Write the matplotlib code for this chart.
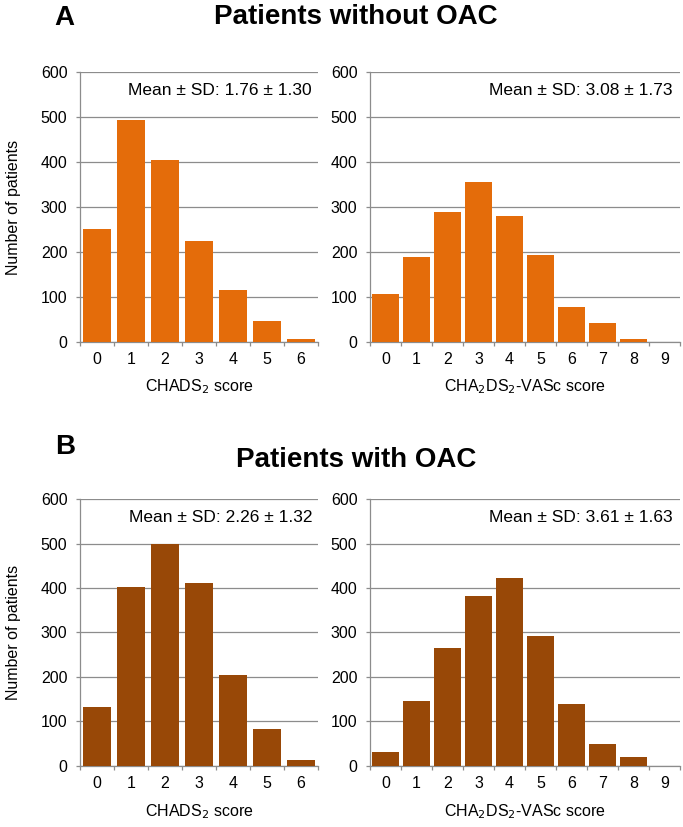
import numpy as np
import matplotlib
matplotlib.use('Agg')
import matplotlib.pyplot as plt

plt.rcParams['font.family'] = ['Liberation Sans', 'DejaVu Sans']

# data
chads_x = [0, 1, 2, 3, 4, 5, 6]
vasc_x = [0, 1, 2, 3, 4, 5, 6, 7, 8, 9]

chads_no_oac = [250, 493, 405, 224, 116, 46, 7]
vasc_no_oac = [106, 189, 288, 355, 281, 193, 78, 42, 6, 0]
chads_oac = [133, 403, 498, 411, 205, 84, 14]
vasc_oac = [32, 147, 265, 383, 422, 292, 139, 50, 20, 0]

mean_txt = ['Mean \u00b1 SD: 1.76 \u00b1 1.30', 'Mean \u00b1 SD: 3.08 \u00b1 1.73',
            'Mean \u00b1 SD: 2.26 \u00b1 1.32', 'Mean \u00b1 SD: 3.61 \u00b1 1.63']

orange = '#E46C0A'
brown = '#984807'
grid_c = '#8C8C8C'
fs = 11.5

fig = plt.figure(figsize=(6.83, 8.27), dpi=100)


def panel(rect, x, y, color, txt, xlab, ylab):
    ax = fig.add_axes(rect)
    ax.bar(x, y, width=0.84, color=color, zorder=3)
    ax.set_xlim(-0.5, len(x) - 0.5)
    ax.set_ylim(0, 600)
    ax.set_yticks(range(0, 601, 100))
    ax.yaxis.grid(True, color=grid_c, linewidth=0.9, zorder=0)
    ax.set_xticks(x)
    ax.set_xticks(np.arange(-0.5, len(x), 1), minor=True)
    ax.tick_params(axis='x', which='major', length=0, pad=7, labelsize=fs)
    ax.tick_params(axis='x', which='minor', length=3, width=0.9, color=grid_c, direction='out')
    ax.tick_params(axis='y', length=3, width=0.9, color=grid_c, labelsize=fs, pad=6)
    for s in ['top', 'right']:
        ax.spines[s].set_visible(False)
    for s in ['left', 'bottom']:
        ax.spines[s].set_color(grid_c)
        ax.spines[s].set_linewidth(0.9)
    ax.text(0.975, 0.93, txt, transform=ax.transAxes, ha='right', va='center', fontsize=12.5)
    ax.set_xlabel(xlab, fontsize=fs, labelpad=8)
    if ylab:
        ax.set_ylabel('Number of patients', fontsize=fs, labelpad=14)
    return ax


xl1 = 'CHADS$_2$ score'
xl2 = 'CHA$_2$DS$_2$-VASc score'

panel([0.1171, 0.5865, 0.3485, 0.3265], chads_x, chads_no_oac, orange, mean_txt[0], xl1, True)
panel([0.5417, 0.5865, 0.4539, 0.3265], vasc_x, vasc_no_oac, orange, mean_txt[1], xl2, False)
panel([0.1171, 0.0738, 0.3485, 0.3228], chads_x, chads_oac, brown, mean_txt[2], xl1, True)
panel([0.5417, 0.0738, 0.4539, 0.3228], vasc_x, vasc_oac, brown, mean_txt[3], xl2, False)

fig.text(0.08, 0.978, 'A', fontsize=20, fontweight='bold', va='center')
fig.text(0.521, 0.979, 'Patients without OAC', fontsize=20, fontweight='bold', ha='center', va='center')
fig.text(0.08, 0.4595, 'B', fontsize=20, fontweight='bold', va='center')
fig.text(0.521, 0.444, 'Patients with OAC', fontsize=20, fontweight='bold', ha='center', va='center')

fig.savefig('out.png', dpi=100)
